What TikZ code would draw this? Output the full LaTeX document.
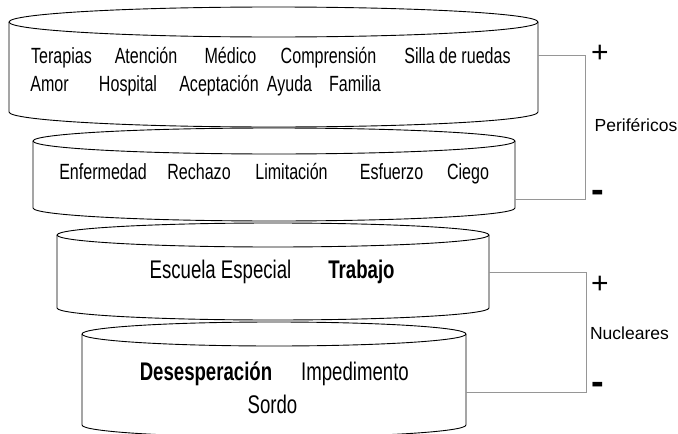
\documentclass[tikz,border=0pt]{standalone}
\usepackage{fontspec}
\setmainfont{Liberation Sans}
\newfontfamily\condfont[FakeStretch=0.73]{Liberation Sans}
\newcommand\drawcyl[6]{% name, xl, xr, ytop, ybot, ry
  \pgfmathsetmacro\rxx{(#3-#2)/2}
  \filldraw[cylline] (#2,#4) -- (#2,#5) arc[start angle=180,end angle=360,x radius=\rxx pt,y radius=#6pt]
    -- (#3,#4) arc[start angle=0,end angle=180,x radius=\rxx pt,y radius=#6pt] -- cycle;
  \draw[cylline] (#2,#4) arc[start angle=180,end angle=360,x radius=\rxx pt,y radius=#6pt];
}
\begin{document}
\begin{tikzpicture}[x=1pt,y=-1pt,
  cylline/.style={draw=black,fill=white,line width=0.9pt},
  wsmall/.style={anchor=base,inner sep=0pt,font=\condfont\fontsize{22}{22}\selectfont},
  wbig/.style={anchor=base,inner sep=0pt,font=\condfont\fontsize{25.5}{25.5}\selectfont},
  wbold/.style={anchor=base,inner sep=0pt,font=\condfont\fontsize{25.5}{25.5}\selectfont\bfseries},
  glabel/.style={anchor=base,inner sep=0pt,font=\fontsize{17.5}{17.5}\selectfont},
  plus/.style={anchor=base,inner sep=0pt,font=\fontsize{30}{30}\selectfont},
  minus/.style={anchor=base,inner sep=0pt,font=\fontsize{38}{38}\selectfont\bfseries},
  bracket/.style={draw={rgb,255:red,150;green,150;blue,150},line width=0.9pt}]
\useasboundingbox (0,0) rectangle (678,434);
\fill[white] (0,0) rectangle (678,434);

% cylinders
\drawcyl{c1}{9}{538}{22}{112}{15}
\drawcyl{c2}{33}{515}{141}{208}{13}
\drawcyl{c3}{57}{489}{235}{308}{12}
\drawcyl{c4}{82}{466}{334}{425}{12}

% connector end points on the cylinders
\coordinate (c1e) at (538,55);
\coordinate (c2e) at (515,199);
\coordinate (c3e) at (489,272);
\coordinate (c4e) at (466,392);
\coordinate (pk) at (585,0);
\coordinate (nk) at (586,0);

% brackets
\draw[bracket] (c1e) -- (c1e -| pk) -- (c2e -| pk) -- (c2e);
\draw[bracket] (c3e) -- (c3e -| nk) -- (c4e -| nk) -- (c4e);

% cylinder 1 words
\node[wsmall] (w1) at (61.5,63) {Terapias};
\node[wsmall] (w2) at (146,63) {Atención};
\node[wsmall] (w3) at (230.5,63) {Médico};
\node[wsmall] (w4) at (328.5,63) {Comprensión};
\node[wsmall] (w5) at (457.5,63) {Silla de ruedas};
\node[wsmall] (w6) at (49.5,91) {Amor};
\node[wsmall] (w7) at (128,91) {Hospital};
\node[wsmall] (w8) at (219,91) {Aceptación};
\node[wsmall] (w9) at (289.5,91) {Ayuda};
\node[wsmall] (w10) at (355,91) {Familia};

% cylinder 2 words
\node[wsmall] (w11) at (103,179.5) {Enfermedad};
\node[wsmall] (w12) at (199,179.5) {Rechazo};
\node[wsmall] (w13) at (291.5,179.5) {Limitación};
\node[wsmall] (w14) at (391.5,179.5) {Esfuerzo};
\node[wsmall] (w15) at (468,179.5) {Ciego};

% cylinder 3 words
\node[wbig] (w16) at (220.5,278) {Escuela Especial};
\node[wbold] (w17) at (361.5,278) {Trabajo};

% cylinder 4 words
\node[wbold] (w18) at (206,380) {Desesperación};
\node[wbig] (w19) at (355,380) {Impedimento};
\node[wbig] (w20) at (272.5,413) {Sordo};

% labels
\node[plus] (p1) at (600,62.5) {+};
\node[minus] (m1) at (598,202) {-};
\node[glabel] (lp) at (636,131.7) {Periféricos};
\node[plus] (p2) at (600,293.5) {+};
\node[minus] (m2) at (598,394) {-};
\node[glabel] (ln) at (629.5,339) {Nucleares};
\end{tikzpicture}
\end{document}
